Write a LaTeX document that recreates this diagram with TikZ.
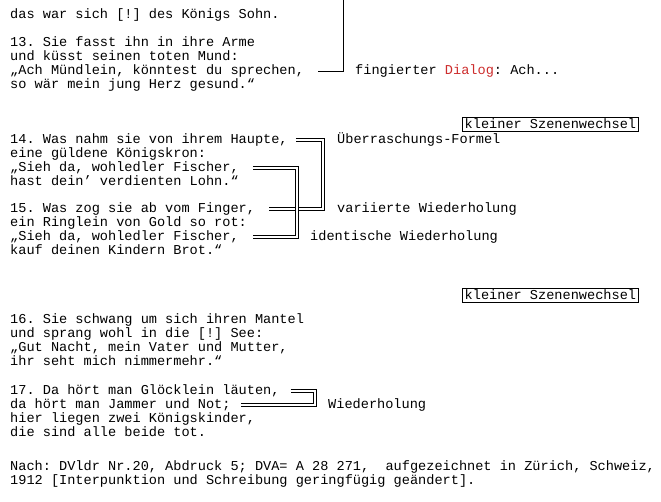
\documentclass[tikz,border=0pt]{standalone}
\usepackage{fontspec}
\newfontfamily\versfont{Liberation Mono}
\definecolor{dialogred}{RGB}{205,45,45}
\begin{document}
\frenchspacing
\begin{tikzpicture}[x=1pt, y=-1pt,
versnode/.style={anchor=base west, inner sep=0pt, text height=9.5pt, text depth=3pt},
boxnode/.style={draw, line width=0.8pt, inner xsep=2.5pt, inner ysep=1.5pt, text height=9.5pt, text depth=1.5pt, anchor=east},
twinline/.style={double, double distance=2.2pt, line width=0.75pt},
font=\versfont\fontsize{13.6pt}{14pt}\selectfont]
\useasboundingbox (0,0) rectangle (661,501);

\node[versnode](sohn) at (10, 18) {das war sich [!] des Königs Sohn.};

\node[versnode](strophe13a) at (10, 46.5) {13. Sie fasst ihn in ihre Arme};
\node[versnode](strophe13b) at (10, 60.5) {und küsst seinen toten Mund:};
\node[versnode](strophe13c) at (10, 74.5) {„Ach Mündlein, könntest du sprechen,};
\node[versnode](strophe13d) at (10, 88.5) {so wär mein jung Herz gesund.“};
\node[versnode](fingiert) at (355, 74.5) {fingierter \textcolor{dialogred}{Dialog}: Ach...};

\node[boxnode](wechselA) at (639, 124) {kleiner Szenenwechsel};

\node[versnode](strophe14a) at (10, 143.5) {14. Was nahm sie von ihrem Haupte,};
\node[versnode](strophe14b) at (10, 157.5) {eine güldene Königskron:};
\node[versnode](strophe14c) at (10, 171.5) {„Sieh da, wohledler Fischer,};
\node[versnode](strophe14d) at (10, 185.5) {hast dein’ verdienten Lohn.“};
\node[versnode](ueberraschung) at (337, 143.5) {Überraschungs-Formel};

\node[versnode](strophe15a) at (10, 212.5) {15. Was zog sie ab vom Finger,};
\node[versnode](strophe15b) at (10, 226.5) {ein Ringlein von Gold so rot:};
\node[versnode](strophe15c) at (10, 240.5) {„Sieh da, wohledler Fischer,};
\node[versnode](strophe15d) at (10, 254.5) {kauf deinen Kindern Brot.“};
\node[versnode](variiert) at (337, 212.5) {variierte Wiederholung};
\node[versnode](identisch) at (310, 240.5) {identische Wiederholung};

\node[boxnode](wechselB) at (639, 295) {kleiner Szenenwechsel};

\node[versnode](strophe16a) at (10, 323.5) {16. Sie schwang um sich ihren Mantel};
\node[versnode](strophe16b) at (10, 337.5) {und sprang wohl in die [!] See:};
\node[versnode](strophe16c) at (10, 351.5) {„Gut Nacht, mein Vater und Mutter,};
\node[versnode](strophe16d) at (10, 365.5) {ihr seht mich nimmermehr.“};

\node[versnode](strophe17a) at (10, 394.5) {17. Da hört man Glöcklein läuten,};
\node[versnode](strophe17b) at (10, 408.5) {da hört man Jammer und Not;};
\node[versnode](strophe17c) at (10, 422.5) {hier liegen zwei Königskinder,};
\node[versnode](strophe17d) at (10, 436.5) {die sind alle beide tot.};
\node[versnode](wiederholung) at (328, 408.5) {Wiederholung};

\node[versnode](quelleA) at (10, 470.5) {Nach: DVldr Nr.20, Abdruck 5; DVA= A 28 271,~ aufgezeichnet in Zürich, Schweiz,};
\node[versnode](quelleB) at (10, 484.5) {1912 [Interpunktion und Schreibung geringfügig geändert].};

\coordinate (oben) at (343, 0);

\draw[line width=0.8pt] ([xshift=14pt]strophe13c.east) -| (oben);

\draw[twinline] ([xshift=8pt]strophe14a.east) -| ([xshift=-14pt]variiert.west) -- ([xshift=14pt]strophe15a.east);
\draw[twinline] ([xshift=14pt]strophe14c.east) -| ([xshift=-13pt]identisch.west) -- ([xshift=14pt]strophe15c.east);

\draw[twinline] ([xshift=11pt]strophe17a.east) -| ([xshift=-13pt]wiederholung.west) -- ([xshift=10pt]strophe17b.east);

\end{tikzpicture}
\end{document}
